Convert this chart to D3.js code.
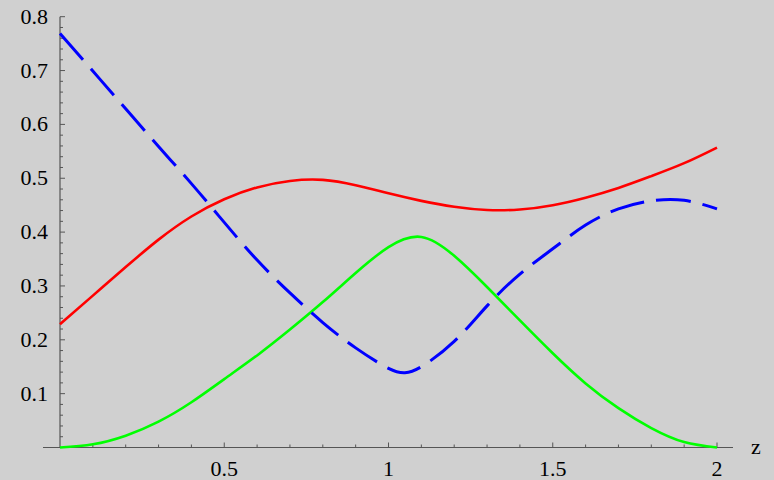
<!DOCTYPE html>
<html>
<head>
<meta charset="utf-8">
<script src="https://cdn.jsdelivr.net/npm/d3@7"></script>
<style>
  html, body { margin: 0; padding: 0; background: #d0d0d0; }
  svg { display: block; }
</style>
</head>
<body>
<script>
const zValues = [0, 0.1, 0.2, 0.3, 0.4, 0.5, 0.6, 0.7, 0.8, 0.9, 1.0, 1.1, 1.2, 1.3, 1.4, 1.5, 1.6, 1.7, 1.8, 1.9, 2.0];
const redSeries   = [0.229, 0.282, 0.335, 0.386, 0.429, 0.461, 0.483, 0.495, 0.497, 0.487, 0.472, 0.458, 0.447, 0.441, 0.442, 0.450, 0.464, 0.482, 0.504, 0.528, 0.557];
const greenSeries = [0.000, 0.006, 0.022, 0.048, 0.084, 0.127, 0.171, 0.219, 0.270, 0.324, 0.372, 0.391, 0.356, 0.298, 0.236, 0.175, 0.119, 0.073, 0.036, 0.010, 0.000];
const blueZ       = [0, 0.1, 0.2, 0.3, 0.4, 0.5, 0.6, 0.7, 0.8, 0.9, 1.0, 1.05, 1.1, 1.2, 1.3, 1.4, 1.5, 1.6, 1.7, 1.8, 1.9, 2.0];
const blueSeries  = [0.769, 0.699, 0.629, 0.559, 0.490, 0.418, 0.348, 0.287, 0.232, 0.185, 0.147, 0.139, 0.150, 0.197, 0.263, 0.322, 0.369, 0.413, 0.443, 0.458, 0.459, 0.443];
const xTickLabels = ["0.5", "1", "1.5", "2"];
const yTickLabels = ["0.1", "0.2", "0.3", "0.4", "0.5", "0.6", "0.7", "0.8"];
const xAxisLabel = "z";

const W = 774, H = 480;
const svg = d3.select("body").append("svg").attr("width", W).attr("height", H);
svg.append("rect").attr("width", W).attr("height", H).attr("fill", "#d0d0d0");

const x = d3.scaleLinear().domain([0, 2]).range([60, 717]);
const y = d3.scaleLinear().domain([0, 0.8]).range([447.5, 16.7]);

const axisColor = "#555";
const fontFamily = "Liberation Serif";

svg.append("line").attr("x1", 43).attr("x2", 733).attr("y1", y(0)).attr("y2", y(0))
  .attr("stroke", axisColor).attr("stroke-width", 1.2);
svg.append("line").attr("x1", x(0)).attr("x2", x(0)).attr("y1", y(0)).attr("y2", y(0.8))
  .attr("stroke", axisColor).attr("stroke-width", 1.2);

const xTicks = d3.range(1, 21).map(i => i / 10);
svg.append("g").selectAll("line").data(xTicks).join("line")
  .attr("x1", d => x(d)).attr("x2", d => x(d))
  .attr("y1", y(0))
  .attr("y2", d => y(0) - (Math.abs(d * 2 - Math.round(d * 2)) < 1e-6 ? 5 : 3))
  .attr("stroke", axisColor).attr("stroke-width", 1);

const yTicks = d3.range(1, 41).map(i => i / 50);
svg.append("g").selectAll("line").data(yTicks).join("line")
  .attr("y1", d => y(d)).attr("y2", d => y(d))
  .attr("x1", x(0))
  .attr("x2", d => x(0) + (Math.abs(d * 10 - Math.round(d * 10)) < 1e-6 ? 5 : 3))
  .attr("stroke", axisColor).attr("stroke-width", 1);

svg.append("g").selectAll("text").data(xTickLabels).join("text")
  .attr("x", d => x(+d)).attr("y", 476)
  .attr("text-anchor", "middle")
  .style("font-family", fontFamily)
  .attr("font-size", 22).attr("fill", "#000")
  .text(d => d);

svg.append("g").selectAll("text").data(yTickLabels).join("text")
  .attr("x", 48).attr("y", d => y(+d) + 7)
  .attr("text-anchor", "end")
  .style("font-family", fontFamily)
  .attr("font-size", 22).attr("fill", "#000")
  .text(d => d);

svg.append("text").attr("x", 751).attr("y", 454)
  .style("font-family", fontFamily)
  .attr("font-size", 22).attr("fill", "#000")
  .text(xAxisLabel);

const line = d3.line().x(d => x(d[0])).y(d => y(d[1])).curve(d3.curveNatural);

svg.append("path").datum(zValues.map((z, i) => [z, greenSeries[i]]))
  .attr("d", line).attr("fill", "none").attr("stroke", "#00ff00").attr("stroke-width", 2.6);
svg.append("path").datum(zValues.map((z, i) => [z, redSeries[i]]))
  .attr("d", line).attr("fill", "none").attr("stroke", "#ff0000").attr("stroke-width", 2.6);
svg.append("path").datum(blueZ.map((z, i) => [z, blueSeries[i]]))
  .attr("d", line).attr("fill", "none").attr("stroke", "#0000ff").attr("stroke-width", 3)
  .attr("stroke-dasharray", "35,12");
</script>
</body>
</html>
